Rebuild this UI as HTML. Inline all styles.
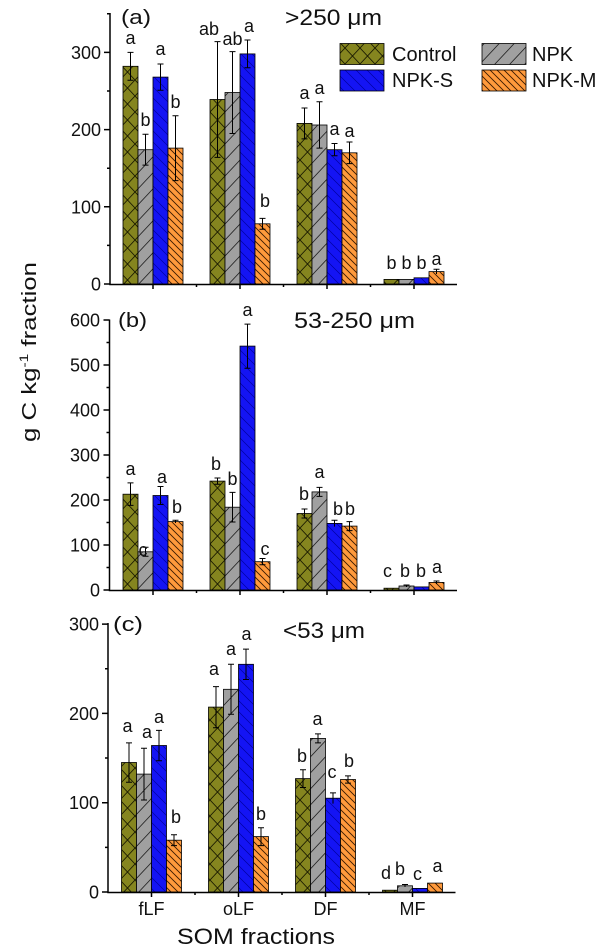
<!DOCTYPE html>
<html><head><meta charset="utf-8"><style>
html,body{margin:0;padding:0;background:#fff;}
svg{display:block;}
text{font-family:"Liberation Sans",Arial,sans-serif;fill:#111;}
</style></head><body>
<svg width="600" height="947" viewBox="0 0 600 947" xmlns="http://www.w3.org/2000/svg">
<defs>
<pattern id="pC" patternUnits="userSpaceOnUse" x="0" y="0" width="15" height="16">
<rect width="15" height="16" fill="#85851f"/>
<path d="M0,0L15,16M15,0L0,16" stroke="#1a1a00" stroke-width="0.9"/>
</pattern>
<pattern id="pN" patternUnits="userSpaceOnUse" width="15" height="16">
<rect width="15" height="16" fill="#a0a0a0"/>
<path d="M0,16L15,0M-2,2L2,-2M13,18L17,14" stroke="#222" stroke-width="0.8"/>
</pattern>
<pattern id="pS" patternUnits="userSpaceOnUse" width="11" height="11">
<rect width="11" height="11" fill="#1414f4"/>
<path d="M0,0L11,11M-2,9L2,13M9,-2L13,2" stroke="#0000a0" stroke-width="0.7"/>
</pattern>
<pattern id="pM" patternUnits="userSpaceOnUse" width="7" height="7">
<rect width="7" height="7" fill="#ff9a3c"/>
<path d="M0,0L7,7M-2,5L2,9M5,-2L9,2" stroke="#3a1a00" stroke-width="0.9"/>
</pattern>
</defs>
<rect width="600" height="947" fill="#fff"/>

<!-- Y axis title -->
<text transform="rotate(-90 36 352)" x="36" y="352" font-size="20" text-anchor="middle" textLength="180" lengthAdjust="spacingAndGlyphs">g C kg<tspan font-size="12" dy="-8">-1</tspan><tspan dy="8"> fraction</tspan></text>

<!-- ================= PANEL A ================= -->
<g stroke="#000" stroke-width="0.8">
<rect x="123" y="66.3" width="15" height="217.7" fill="url(#pC)"/>
<rect x="138" y="149.7" width="15" height="134.3" fill="url(#pN)"/>
<rect x="153" y="77.1" width="15" height="206.9" fill="url(#pS)"/>
<rect x="168" y="148.1" width="15" height="135.9" fill="url(#pM)"/>
<rect x="210" y="99.5" width="15" height="184.5" fill="url(#pC)"/>
<rect x="225" y="92.5" width="15" height="191.5" fill="url(#pN)"/>
<rect x="240" y="53.9" width="15" height="230.1" fill="url(#pS)"/>
<rect x="255" y="223.8" width="15" height="60.2" fill="url(#pM)"/>
<rect x="297" y="123.4" width="15" height="160.6" fill="url(#pC)"/>
<rect x="312" y="125" width="15" height="159" fill="url(#pN)"/>
<rect x="327" y="149.7" width="15" height="134.3" fill="url(#pS)"/>
<rect x="342" y="152.8" width="15" height="131.2" fill="url(#pM)"/>
<rect x="384" y="279.4" width="15" height="4.6" fill="url(#pC)"/>
<rect x="399" y="279.4" width="15" height="4.6" fill="url(#pN)"/>
<rect x="414" y="277.8" width="15" height="6.2" fill="url(#pS)"/>
<rect x="429" y="271.6" width="15" height="12.4" fill="url(#pM)"/>
</g>
<g stroke="#000" stroke-width="1" fill="none">
<path d="M130.5,52.4V80.2M127.5,52.4H133.5M127.5,80.2H133.5"/>
<path d="M145.5,134.2V165.1M142.5,134.2H148.5M142.5,165.1H148.5"/>
<path d="M160.5,64V90.2M157.5,64H163.5M157.5,90.2H163.5"/>
<path d="M175.5,115.7V180.6M172.5,115.7H178.5M172.5,180.6H178.5"/>
<path d="M217.5,41.6V157.4M214.5,41.6H220.5M214.5,157.4H220.5"/>
<path d="M232.5,51.6V133.5M229.5,51.6H235.5M229.5,133.5H235.5"/>
<path d="M247.5,40V67.8M244.5,40H250.5M244.5,67.8H250.5"/>
<path d="M262.5,218.4V229.2M259.5,218.4H265.5M259.5,229.2H265.5"/>
<path d="M304.5,108V138.9M301.5,108H307.5M301.5,138.9H307.5"/>
<path d="M319.5,101.8V148.1M316.5,101.8H322.5M316.5,148.1H322.5"/>
<path d="M334.5,143.5V155.8M331.5,143.5H337.5M331.5,155.8H337.5"/>
<path d="M349.5,142V163.6M346.5,142H352.5M346.5,163.6H352.5"/>
<path d="M436.5,269.3V274M433.5,269.3H439.5"/>
</g>
<g stroke="#000" stroke-width="1.5" fill="none">
<path d="M110,13V284.5H457"/>
<path d="M104,284H110M104,206.8H110M104,129.6H110M104,52.4H110"/>
<path d="M107,245.4H110M107,168.2H110M107,91H110M107,13.8H110"/>
<path d="M153,284V289M240,284V289M327,284V289M414,284V289"/>
<path d="M196.5,284V287M283.5,284V287M370.5,284V287"/>
</g>
<g font-size="18" text-anchor="end">
<text x="101" y="290.5">0</text>
<text x="101" y="213.3">100</text>
<text x="101" y="136.1">200</text>
<text x="101" y="58.9">300</text>
</g>
<g font-size="18" text-anchor="middle">
<text x="130.5" y="44">a</text>
<text x="145.5" y="126">b</text>
<text x="160.5" y="55">a</text>
<text x="175.5" y="108">b</text>
<text x="209" y="35">ab</text>
<text x="232.5" y="45">ab</text>
<text x="249" y="32">a</text>
<text x="265" y="207">b</text>
<text x="304.5" y="99">a</text>
<text x="319.5" y="94">a</text>
<text x="334.5" y="135">a</text>
<text x="349.5" y="137">a</text>
<text x="391.5" y="269">b</text>
<text x="406.5" y="269">b</text>
<text x="421.5" y="269">b</text>
<text x="436.5" y="265">a</text>
</g>
<text x="121" y="24" font-size="20" textLength="30" lengthAdjust="spacingAndGlyphs">(a)</text>
<text x="285" y="25" font-size="22" textLength="97" lengthAdjust="spacingAndGlyphs">&gt;250 μm</text>

<!-- Legend -->
<g stroke="#000" stroke-width="0.8">
<rect x="340" y="43.5" width="44" height="21" fill="url(#pC)"/>
<rect x="482" y="43.5" width="44" height="21" fill="url(#pN)"/>
<rect x="340" y="70" width="44" height="21" fill="url(#pS)"/>
<rect x="482" y="70" width="44" height="21" fill="url(#pM)"/>
</g>
<g font-size="20">
<text x="392" y="61">Control</text>
<text x="532" y="61">NPK</text>
<text x="392" y="87">NPK-S</text>
<text x="532" y="87">NPK-M</text>
</g>

<!-- ================= PANEL B ================= -->
<g stroke="#000" stroke-width="0.8">
<rect x="123" y="494.2" width="15" height="95.8" fill="url(#pC)"/>
<rect x="138" y="551.8" width="15" height="38.2" fill="url(#pN)"/>
<rect x="153" y="495.5" width="15" height="94.5" fill="url(#pS)"/>
<rect x="168" y="521.6" width="15" height="68.4" fill="url(#pM)"/>
<rect x="210" y="481.1" width="15" height="108.9" fill="url(#pC)"/>
<rect x="225" y="507.2" width="15" height="82.8" fill="url(#pN)"/>
<rect x="240" y="346.1" width="15" height="243.9" fill="url(#pS)"/>
<rect x="255" y="561.7" width="15" height="28.3" fill="url(#pM)"/>
<rect x="297" y="513.5" width="15" height="76.5" fill="url(#pC)"/>
<rect x="312" y="491.9" width="15" height="98.1" fill="url(#pN)"/>
<rect x="327" y="523.4" width="15" height="66.6" fill="url(#pS)"/>
<rect x="342" y="526.1" width="15" height="63.9" fill="url(#pM)"/>
<rect x="384" y="588.2" width="15" height="1.8" fill="url(#pC)"/>
<rect x="399" y="586" width="15" height="4" fill="url(#pN)"/>
<rect x="414" y="586.9" width="15" height="3.1" fill="url(#pS)"/>
<rect x="429" y="582.4" width="15" height="7.6" fill="url(#pM)"/>
</g>
<g stroke="#000" stroke-width="1" fill="none">
<path d="M130.5,482.9V505.4M127.5,482.9H133.5M127.5,505.4H133.5"/>
<path d="M145.5,547.3V556.3M142.5,547.3H148.5M142.5,556.3H148.5"/>
<path d="M160.5,486.5V504.5M157.5,486.5H163.5M157.5,504.5H163.5"/>
<path d="M175.5,520.3V523M172.5,520.3H178.5"/>
<path d="M217.5,478V484.3M214.5,478H220.5M214.5,484.3H220.5"/>
<path d="M232.5,492.4V522M229.5,492.4H235.5M229.5,522H235.5"/>
<path d="M247.5,324.1V368.2M244.5,324.1H250.5M244.5,368.2H250.5"/>
<path d="M262.5,558.5V564.8M259.5,558.5H265.5M259.5,564.8H265.5"/>
<path d="M304.5,509V518M301.5,509H307.5M301.5,518H307.5"/>
<path d="M319.5,487.4V496.4M316.5,487.4H322.5M316.5,496.4H322.5"/>
<path d="M334.5,520.3V526.6M331.5,520.3H337.5"/>
<path d="M349.5,521.6V530.6M346.5,521.6H352.5M346.5,530.6H352.5"/>
<path d="M406.5,585V587M403.5,585H409.5"/>
<path d="M436.5,581V584M433.5,581H439.5"/>
</g>
<g stroke="#000" stroke-width="1.5" fill="none">
<path d="M109.5,319.5V590.5H457"/>
<path d="M103.5,590H109.5M103.5,545H109.5M103.5,500H109.5M103.5,455H109.5M103.5,410H109.5M103.5,365H109.5M103.5,320H109.5"/>
<path d="M106.5,567.5H109.5M106.5,522.5H109.5M106.5,477.5H109.5M106.5,432.5H109.5M106.5,387.5H109.5M106.5,342.5H109.5"/>
<path d="M153,590V595M240,590V595M327,590V595M414,590V595"/>
<path d="M196.5,590V593M283.5,590V593M370.5,590V593"/>
</g>
<g font-size="18" text-anchor="end">
<text x="100" y="596.5">0</text>
<text x="100" y="551.5">100</text>
<text x="100" y="506.5">200</text>
<text x="100" y="461.5">300</text>
<text x="100" y="416.5">400</text>
<text x="100" y="371.5">500</text>
<text x="100" y="326.5">600</text>
</g>
<g font-size="18" text-anchor="middle">
<text x="130.5" y="475">a</text>
<text x="143" y="556">c</text>
<text x="162" y="483">a</text>
<text x="177" y="513">b</text>
<text x="216" y="470">b</text>
<text x="232.5" y="485">b</text>
<text x="247.5" y="316">a</text>
<text x="265" y="555">c</text>
<text x="304" y="500">b</text>
<text x="319.5" y="478">a</text>
<text x="338" y="515">b</text>
<text x="350" y="515">b</text>
<text x="387.5" y="577">c</text>
<text x="405" y="577">b</text>
<text x="421" y="577">b</text>
<text x="437" y="573">a</text>
</g>
<text x="118" y="327" font-size="20" textLength="29" lengthAdjust="spacingAndGlyphs">(b)</text>
<text x="294" y="328" font-size="22" textLength="121" lengthAdjust="spacingAndGlyphs">53-250 μm</text>

<!-- ================= PANEL C ================= -->
<g stroke="#000" stroke-width="0.8">
<rect x="121.5" y="762.5" width="15" height="129.5" fill="url(#pC)"/>
<rect x="136.5" y="774.1" width="15" height="117.9" fill="url(#pN)"/>
<rect x="151.5" y="745.5" width="15" height="146.5" fill="url(#pS)"/>
<rect x="166.5" y="840.2" width="15" height="51.8" fill="url(#pM)"/>
<rect x="208.5" y="707.1" width="15" height="184.9" fill="url(#pC)"/>
<rect x="223.5" y="689.3" width="15" height="202.7" fill="url(#pN)"/>
<rect x="238.5" y="664.3" width="15" height="227.7" fill="url(#pS)"/>
<rect x="253.5" y="836.6" width="15" height="55.4" fill="url(#pM)"/>
<rect x="295.5" y="778.6" width="15" height="113.4" fill="url(#pC)"/>
<rect x="310.5" y="738.4" width="15" height="153.6" fill="url(#pN)"/>
<rect x="325.5" y="798.2" width="15" height="93.8" fill="url(#pS)"/>
<rect x="340.5" y="779.5" width="15" height="112.5" fill="url(#pM)"/>
<rect x="382.5" y="890.2" width="15" height="1.8" fill="url(#pC)"/>
<rect x="397.5" y="885.8" width="15" height="6.2" fill="url(#pN)"/>
<rect x="412.5" y="888.4" width="15" height="3.6" fill="url(#pS)"/>
<rect x="427.5" y="883.1" width="15" height="8.9" fill="url(#pM)"/>
</g>
<g stroke="#000" stroke-width="1" fill="none">
<path d="M129,742.9V782.2M126,742.9H132M126,782.2H132"/>
<path d="M144,748.2V800M141,748.2H147M141,800H147"/>
<path d="M159,730.4V760.7M156,730.4H162M156,760.7H162"/>
<path d="M174,834.8V845.6M171,834.8H177M171,845.6H177"/>
<path d="M216,686.6V727.7M213,686.6H219M213,727.7H219"/>
<path d="M231,664.3V714.3M228,664.3H234M228,714.3H234"/>
<path d="M246,649.1V679.5M243,649.1H249M243,679.5H249"/>
<path d="M261,827.7V845.6M258,827.7H264M258,845.6H264"/>
<path d="M303,769.7V787.5M300,769.7H306M300,787.5H306"/>
<path d="M318,733.9V742.9M315,733.9H321M315,742.9H321"/>
<path d="M333,792.9V803.6M330,792.9H336"/>
<path d="M348,775.9V783.1M345,775.9H351M345,783.1H351"/>
<path d="M405,884.5V887M402,884.5H408"/>
</g>
<g stroke="#000" stroke-width="1.5" fill="none">
<path d="M108,623V892.5H455.5"/>
<path d="M102,892H108M102,802.7H108M102,713.4H108M102,624.1H108"/>
<path d="M105,847.4H108M105,758H108M105,668.7H108"/>
<path d="M151.5,892V897M238.5,892V897M325.5,892V897M412.5,892V897"/>
<path d="M195,892V895M282,892V895M369,892V895"/>
</g>
<g font-size="18" text-anchor="end">
<text x="99" y="898.5">0</text>
<text x="99" y="809.2">100</text>
<text x="99" y="719.9">200</text>
<text x="99" y="630.6">300</text>
</g>
<g font-size="18" text-anchor="middle">
<text x="127.5" y="732">a</text>
<text x="147" y="738">a</text>
<text x="159" y="723">a</text>
<text x="176" y="823">b</text>
<text x="214" y="675">a</text>
<text x="231" y="655">a</text>
<text x="246.5" y="640">a</text>
<text x="261" y="820">b</text>
<text x="302" y="762">b</text>
<text x="317.5" y="725">a</text>
<text x="332" y="778">c</text>
<text x="349" y="767">b</text>
<text x="386" y="879">d</text>
<text x="400" y="875">b</text>
<text x="417.5" y="880">c</text>
<text x="437.5" y="872">a</text>
</g>
<text x="113" y="631" font-size="20" textLength="30" lengthAdjust="spacingAndGlyphs">(c)</text>
<text x="283" y="638" font-size="22" textLength="82" lengthAdjust="spacingAndGlyphs">&lt;53 μm</text>

<!-- X tick labels -->
<g font-size="18" text-anchor="middle">
<text x="151.5" y="915">fLF</text>
<text x="238.5" y="915">oLF</text>
<text x="325.5" y="915">DF</text>
<text x="412.5" y="915">MF</text>
</g>
<text x="177" y="944" font-size="22" textLength="158" lengthAdjust="spacingAndGlyphs">SOM fractions</text>
</svg>
</body></html>
